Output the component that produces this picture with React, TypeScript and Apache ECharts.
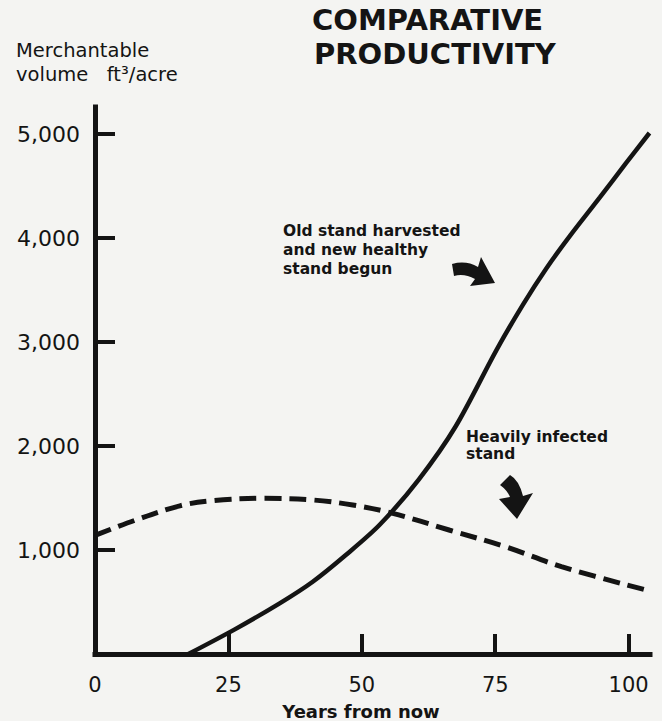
import React, { useEffect, useRef } from "react";
import * as echarts from "echarts";

// ---- data ----
const healthyYears = [17.5, 26.2, 34.6, 40.8, 47, 53.3, 60.7, 67.6, 75.2, 80.2, 84.6, 89, 94.6, 99.5, 103.9];
const healthyVolume = [0, 237, 487, 695, 952, 1240, 1680, 2190, 2920, 3360, 3710, 4020, 4390, 4720, 5010];

const infectedYears = [0, 7.6, 15.9, 22.1, 31.5, 40.8, 48.3, 55.8, 66.5, 77, 87.4, 103.3];
const infectedVolume = [1140, 1288, 1425, 1474, 1497, 1481, 1433, 1353, 1190, 1030, 840, 615];

const xTickValues = [25, 50, 75, 100];
const xLabelValues = [0, 25, 50, 75, 100];
const yTickValues = [1000, 2000, 3000, 4000, 5000];

const titleLines = ["COMPARATIVE", "PRODUCTIVITY"];
const yNameLines = ["Merchantable", "volume   ft\u00B3/acre"];
const xName = "Years from now";
const healthyNote = ["Old stand harvested", "and new healthy", "stand begun"];
const infectedNote = ["Heavily infected", "stand"];

const FONT = '"DejaVu Sans", "Noto Sans", sans-serif';
const INK = "#141414";

echarts.graphic.registerShape(
  "arrowRight",
  echarts.graphic.extendPath("M 2 9 Q 16 5 28 12 L 31 2 L 45 28 L 20 31 L 25 24 Q 14 18 4 21 Z", {})
);
echarts.graphic.registerShape(
  "arrowDown",
  echarts.graphic.extendPath("M 2 13 L 12 3 Q 21 8 25 24 L 35 21 L 19 47 L 1 27 L 12 25 Q 9 18 2 13 Z", {})
);

export default function App() {
  const ref = useRef<HTMLDivElement>(null);

  useEffect(() => {
    if (!ref.current) return;
    const chart = echarts.init(ref.current, null, { renderer: "svg" });

    const textEl = (text: string, x: number, y: number, size: number, weight: string) => ({
      type: "text",
      style: {
        text,
        x,
        y,
        fill: INK,
        fontFamily: FONT,
        fontSize: size,
        fontWeight: weight,
        textAlign: "left",
        textVerticalAlign: "middle",
      },
    });

    chart.setOption({
      animation: false,
      backgroundColor: "#f4f4f2",
      grid: { left: 95, right: 12, top: 107, bottom: 67, containLabel: false },
      xAxis: {
        type: "value",
        min: 0,
        max: 104,
        axisLine: { show: true, lineStyle: { color: INK, width: 5, cap: "square" } },
        axisTick: {
          show: true,
          inside: true,
          length: 20,
          customValues: xTickValues,
          lineStyle: { color: INK, width: 4 },
        },
        axisLabel: {
          show: true,
          customValues: xLabelValues,
          fontSize: 21,
          fontFamily: FONT,
          color: INK,
          margin: 20,
        },
        splitLine: { show: false },
      },
      yAxis: {
        type: "value",
        min: 0,
        max: 5260,
        axisLine: { show: true, lineStyle: { color: INK, width: 5, cap: "square" } },
        axisTick: {
          show: true,
          inside: true,
          length: 20,
          customValues: yTickValues,
          lineStyle: { color: INK, width: 4 },
        },
        axisLabel: {
          show: true,
          customValues: yTickValues,
          fontSize: 22,
          fontFamily: FONT,
          color: INK,
          margin: 15,
          formatter: (v: number) => v.toLocaleString("en-US"),
        },
        splitLine: { show: false },
      },
      series: [
        {
          name: "Old stand harvested and new healthy stand begun",
          type: "line",
          data: healthyYears.map((x, i) => [x, healthyVolume[i]]),
          smooth: 0.3,
          showSymbol: false,
          clip: false,
          lineStyle: { color: INK, width: 4.5 },
        },
        {
          name: "Heavily infected stand",
          type: "line",
          data: infectedYears.map((x, i) => [x, infectedVolume[i]]),
          smooth: 0.35,
          showSymbol: false,
          clip: false,
          lineStyle: { color: INK, width: 5, type: [17, 8], cap: "butt" },
        },
      ],
      graphic: [
        textEl(titleLines[0], 312, 19.5, 29, "bold"),
        textEl(titleLines[1], 314, 53.5, 29, "bold"),
        textEl(yNameLines[0], 16, 50, 19.5, "normal"),
        textEl(yNameLines[1], 16, 74, 19.5, "normal"),
        textEl(healthyNote[0], 283, 230.5, 15.5, "bold"),
        textEl(healthyNote[1], 283, 249.5, 15.5, "bold"),
        textEl(healthyNote[2], 283, 269, 15.5, "bold"),
        textEl(infectedNote[0], 466, 437, 15.5, "bold"),
        textEl(infectedNote[1], 466, 453.5, 15.5, "bold"),
        {
          type: "text",
          style: {
            text: xName,
            x: 361,
            y: 711,
            fill: INK,
            fontFamily: FONT,
            fontSize: 18,
            fontWeight: "bold",
            textAlign: "center",
            textVerticalAlign: "middle",
          },
        },
        { type: "arrowRight", x: 450, y: 255, scaleX: 1, scaleY: 1, style: { fill: INK } },
        { type: "arrowDown", x: 498, y: 472, scaleX: 1, scaleY: 1, style: { fill: INK } },
      ],
    });

    return () => chart.dispose();
  }, []);

  return (
    <div
      ref={ref}
      style={{ position: "fixed", left: 0, top: 0, width: 662, height: 721 }}
    />
  );
}
